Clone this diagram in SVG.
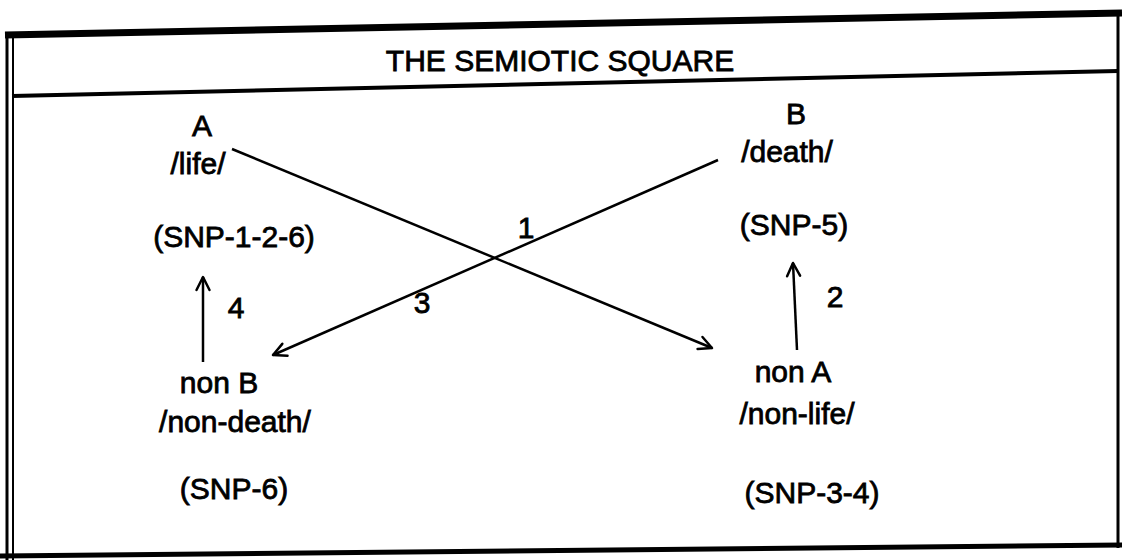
<svg xmlns="http://www.w3.org/2000/svg" width="1122" height="560" viewBox="0 0 1122 560">
  <style>
    text { font-family: "Liberation Sans", Arial, sans-serif; font-size: 30px; fill: #000; stroke: #000; stroke-width: 0.8; text-anchor: middle; }
    .frame { stroke: #000; fill: none; stroke-linecap: butt; }
    .conn { stroke: #000; stroke-width: 2.5; fill: none; }
  </style>
  <defs>
    <marker id="arrow" viewBox="0 0 16 16" markerWidth="16" markerHeight="16" refX="14" refY="8" orient="auto" markerUnits="userSpaceOnUse" overflow="visible">
      <path d="M1,1.5 L14,8 L1,14.5" fill="none" stroke="#000" stroke-width="2.5" stroke-linecap="round" stroke-linejoin="round"/>
    </marker>
  </defs>
  <rect width="1122" height="560" fill="#fff"/>

  <g id="frame">
    <line class="frame" x1="5" y1="35" x2="1122" y2="13" stroke-width="7"/>
    <line class="frame" x1="12" y1="96" x2="1118" y2="71" stroke-width="4"/>
    <line class="frame" x1="7" y1="32" x2="7" y2="560" stroke-width="3"/>
    <line class="frame" x1="13" y1="35" x2="13" y2="560" stroke-width="2"/>
    <line class="frame" x1="1118" y1="12" x2="1118" y2="548" stroke-width="3"/>
    <line class="frame" x1="0" y1="556" x2="1122" y2="545" stroke-width="5"/>
  </g>

  <g id="title">
    <text x="560" y="71">THE SEMIOTIC SQUARE</text>
  </g>

  <g id="connectors">
    <line class="conn" x1="232" y1="149" x2="712" y2="348" marker-end="url(#arrow)"/>
    <line class="conn" x1="718" y1="160" x2="273" y2="355" marker-end="url(#arrow)"/>
    <line class="conn" x1="203" y1="362" x2="203" y2="277" marker-end="url(#arrow)"/>
    <line class="conn" x1="797" y1="350" x2="793" y2="263" marker-end="url(#arrow)"/>
    <text x="526" y="238">1</text>
    <text x="835" y="307">2</text>
    <text x="422" y="313">3</text>
    <text x="236" y="318">4</text>
  </g>

  <g id="node-A">
    <text x="202" y="136">A</text>
    <text x="198" y="174">/life/</text>
    <text x="234" y="247">(SNP-1-2-6)</text>
  </g>

  <g id="node-B">
    <text x="796" y="124">B</text>
    <text x="787" y="162">/death/</text>
    <text x="794" y="235">(SNP-5)</text>
  </g>

  <g id="node-nonB">
    <text x="219" y="393">non B</text>
    <text x="235" y="432">/non-death/</text>
    <text x="234" y="499">(SNP-6)</text>
  </g>

  <g id="node-nonA">
    <text x="793" y="382">non A</text>
    <text x="797" y="424">/non-life/</text>
    <text x="812" y="503">(SNP-3-4)</text>
  </g>
</svg>
